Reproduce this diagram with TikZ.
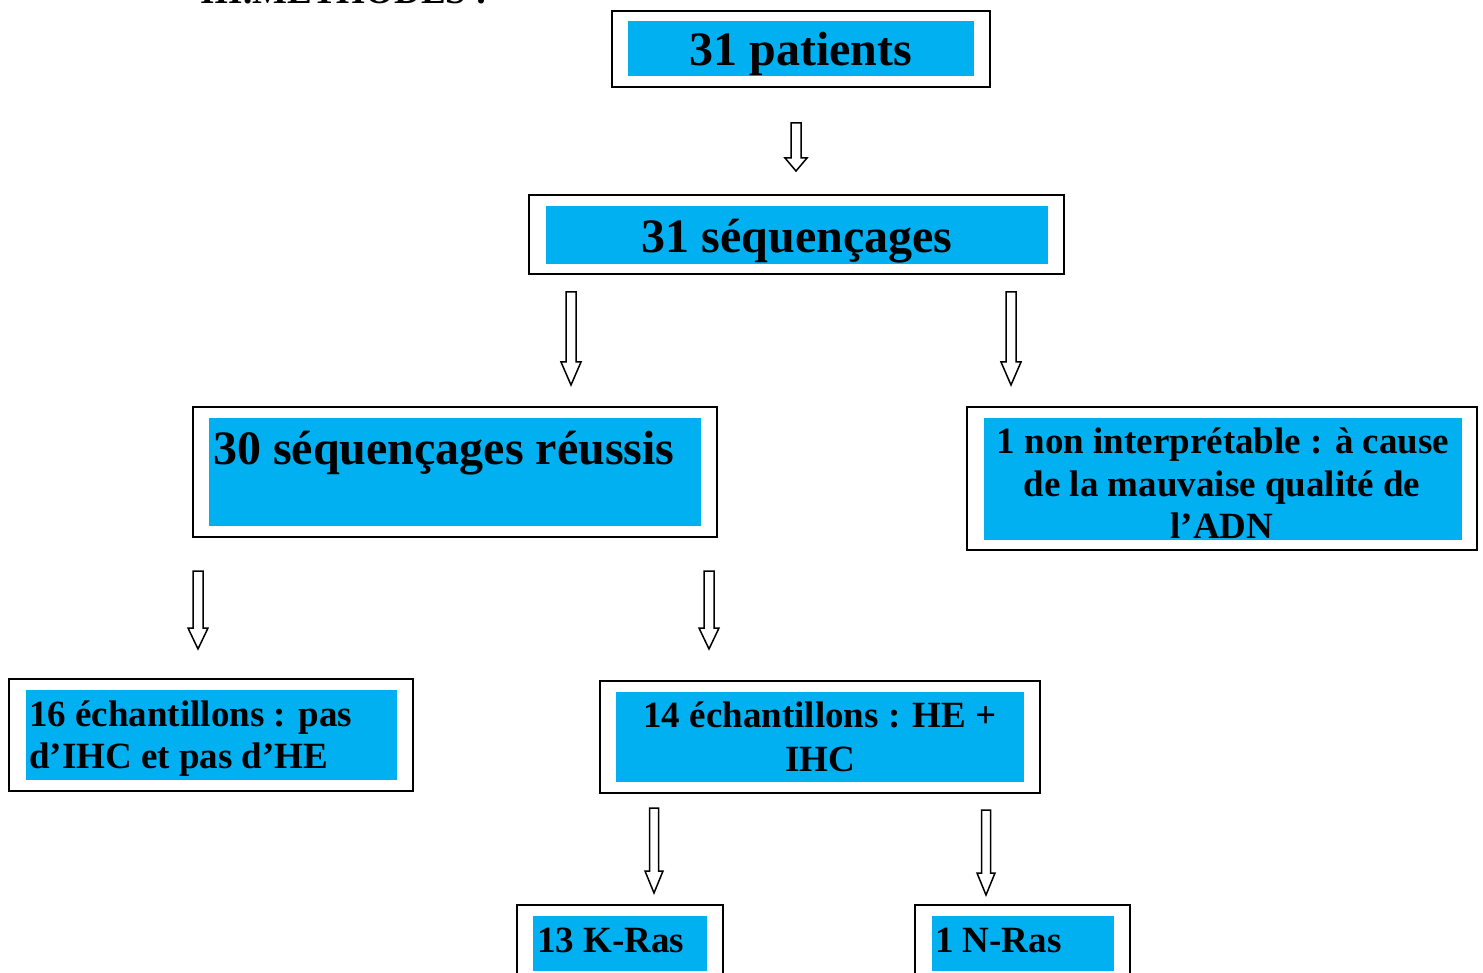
\documentclass[tikz,border=0pt]{standalone}
\usepackage{fontspec}
\setmainfont{Liberation Serif}
\usetikzlibrary{calc}
\definecolor{boxblue}{HTML}{00B0F0}
\tikzset{
  outerbox/.style={draw=black, line width=1.8pt, inner sep=0pt, fill=white},
  bluebox/.style={fill=boxblue, draw=none, inner sep=0pt},
  bigtxt/.style={font=\fontsize{48}{55}\selectfont\bfseries, inner sep=0pt, anchor=base},
  smalltxt/.style={font=\fontsize{37}{43}\selectfont\bfseries, inner sep=0pt, anchor=base},
  blockarr/.style={draw=black, line width=1.5pt, fill=white, line join=miter},
}
% #1 start, #2 tip, #3 shaft half width, #4 head half width, #5 head length
\newcommand\blockarrow[5]{%
  \draw[blockarr] let \p1=(#1), \p2=(#2) in
    (\x1-#3pt,\y1) -- (\x1+#3pt,\y1) -- (\x1+#3pt,\y2+#5pt) -- (\x1+#4pt,\y2+#5pt)
    -- (\x1,\y2) -- (\x1-#4pt,\y2+#5pt) -- (\x1-#3pt,\y2+#5pt) -- cycle;}
\begin{document}
\begin{tikzpicture}[x=1pt,y=-1pt]
\useasboundingbox (0,0) rectangle (1483,973);
\clip (0,0) rectangle (1483,973);

% title (cut off at top, as in the reference)
\node[smalltxt, anchor=base west] (title) at (200,4) {III.METHODES :};

% 31 patients
\node[outerbox, minimum width=378pt, minimum height=76pt] (p) at (801,49) {};
\node[bluebox, minimum width=346pt, minimum height=55pt] (pb) at (801,48.5) {};
\node[bigtxt] (pt) at (801,66) {31 patients};

% 31 sequencages
\node[outerbox, minimum width=535pt, minimum height=79pt] (s) at (796.5,234.5) {};
\node[bluebox, minimum width=502pt, minimum height=58pt] (sb) at (797,235) {};
\node[bigtxt] (st) at (797,253) {31 séquençages};

% 30 sequencages reussis
\node[outerbox, minimum width=524pt, minimum height=130pt] (r) at (455,472) {};
\node[bluebox, minimum width=492pt, minimum height=108pt] (rb) at (455,472) {};
\node[bigtxt, anchor=base west] (rt) at (213,464) {30 séquençages réussis};

% 1 non interpretable
\node[outerbox, minimum width=510pt, minimum height=143pt] (n) at (1222,478.5) {};
\node[bluebox, minimum width=478pt, minimum height=122pt] (nb) at (1223,479) {};
\node[smalltxt] (nt1) at (1223,453) {1 non interprétable : à cause};
\node[smalltxt] (nt2) at (1222,496) {de la mauvaise qualité de};
\node[smalltxt] (nt3) at (1222,538) {l’ADN};

% 16 echantillons
\node[outerbox, minimum width=404pt, minimum height=112pt] (e16) at (211,735) {};
\node[bluebox, minimum width=371pt, minimum height=90pt] (e16b) at (211.5,735) {};
\node[smalltxt, anchor=base west] (e16t1) at (29,726) {16 échantillons : pas};
\node[smalltxt, anchor=base west] (e16t2) at (29,768) {d’IHC et pas d’HE};

% 14 echantillons
\node[outerbox, minimum width=440pt, minimum height=112pt] (e14) at (820,737) {};
\node[bluebox, minimum width=408pt, minimum height=90pt] (e14b) at (820,737) {};
\node[smalltxt] (e14t1) at (820,727) {14 échantillons : HE +};
\node[smalltxt] (e14t2) at (820,771) {IHC};

% 13 K-Ras
\node[outerbox, minimum width=206pt, minimum height=90pt] (k) at (620,950) {};
\node[bluebox, minimum width=174pt, minimum height=55pt] (kb) at (620,943.5) {};
\node[smalltxt, anchor=base west] (kt) at (537,952) {13 K-Ras};

% 1 N-Ras
\node[outerbox, minimum width=215pt, minimum height=90pt] (nr) at (1022.5,950) {};
\node[bluebox, minimum width=182pt, minimum height=55pt] (nrb) at (1023,943.5) {};
\node[smalltxt, anchor=base west] (nrt) at (935,952) {1 N-Ras};

% arrows
\coordinate (a1s) at (796,123); \coordinate (a1e) at (796,171);
\coordinate (a2s) at (571,292); \coordinate (a2e) at (571,385);
\coordinate (a3s) at (1011,292); \coordinate (a3e) at (1011,385);
\coordinate (a4s) at (198,571); \coordinate (a4e) at (198,649);
\coordinate (a5s) at (709,571); \coordinate (a5e) at (709,649);
\coordinate (a6s) at (654,808); \coordinate (a6e) at (654,893);
\coordinate (a7s) at (986,810); \coordinate (a7e) at (986,895);
\blockarrow{a1s}{a1e}{5}{11}{13}
\blockarrow{a2s}{a2e}{5}{10}{23}
\blockarrow{a3s}{a3e}{5}{10}{23}
\blockarrow{a4s}{a4e}{5}{10}{21}
\blockarrow{a5s}{a5e}{5}{10}{21}
\blockarrow{a6s}{a6e}{4.5}{9}{22}
\blockarrow{a7s}{a7e}{4.5}{9}{22}
\end{tikzpicture}
\end{document}
